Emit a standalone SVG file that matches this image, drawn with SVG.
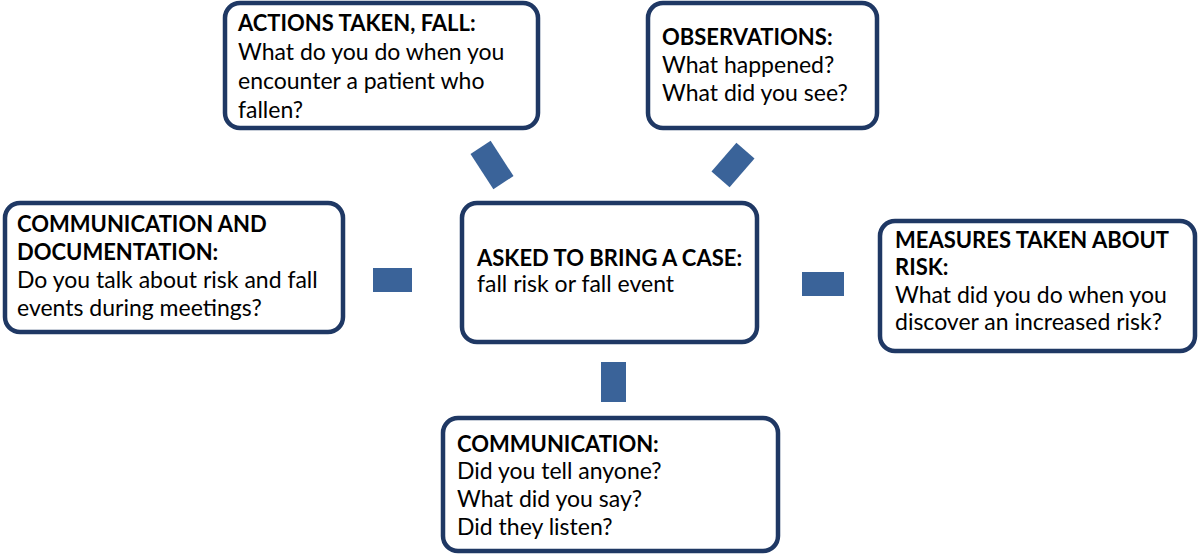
<svg xmlns="http://www.w3.org/2000/svg" width="1200" height="554" viewBox="0 0 1200 554">
<style>
.box{fill:#fff;stroke:#1F3864;stroke-width:4.5}
.t{font-family:Lato,"Liberation Sans",sans-serif;font-size:23px;fill:#000}
.b{font-weight:bold;font-size:22px}
.c{fill:#3A6399}
</style>
<rect width="1200" height="554" fill="#fff"/>
<g id="connectors">
<rect class="c" x="373" y="268" width="39" height="24"/>
<rect class="c" x="802" y="272" width="42" height="24"/>
<rect class="c" x="601" y="362" width="25" height="40"/>
<rect class="c" x="-12" y="-21" width="24" height="42" transform="translate(492,165) rotate(-33)"/>
<rect class="c" x="-12" y="-19" width="24" height="38" transform="translate(733,165) rotate(41)"/>
</g>
<g id="actions">
<rect class="box" x="225" y="3" width="313" height="125" rx="15"/>
<text class="t" x="238"><tspan class="b" x="238" y="31">ACTIONS TAKEN, FALL:</tspan><tspan x="238" y="60">What do you do when you</tspan><tspan x="238" y="89">encounter a patient who</tspan><tspan x="238" y="118">fallen?</tspan></text>
</g>
<g id="observations">
<rect class="box" x="648" y="3" width="229" height="125" rx="15"/>
<text class="t"><tspan class="b" x="662" y="45">OBSERVATIONS:</tspan><tspan x="662" y="73">What happened?</tspan><tspan x="662" y="101">What did you see?</tspan></text>
</g>
<g id="comm-doc">
<rect class="box" x="5" y="203" width="338" height="129" rx="15"/>
<text class="t"><tspan class="b" x="17" y="232">COMMUNICATION AND</tspan><tspan class="b" x="17" y="260">DOCUMENTATION:</tspan><tspan x="17" y="288">Do you talk about risk and fall</tspan><tspan x="17" y="316">events during meetings?</tspan></text>
</g>
<g id="center">
<rect class="box" x="462" y="203" width="295" height="139" rx="15"/>
<text class="t"><tspan class="b" x="477" y="266">ASKED TO BRING A CASE:</tspan><tspan x="477" y="292">fall risk or fall event</tspan></text>
</g>
<g id="measures">
<rect class="box" x="880" y="221" width="315" height="130" rx="15"/>
<text class="t"><tspan class="b" x="895" y="248">MEASURES TAKEN ABOUT</tspan><tspan class="b" x="895" y="275">RISK:</tspan><tspan x="895" y="303">What did you do when you</tspan><tspan x="895" y="330">discover an increased risk?</tspan></text>
</g>
<g id="communication">
<rect class="box" x="443" y="418" width="335" height="133" rx="15"/>
<text class="t"><tspan class="b" x="457" y="452">COMMUNICATION:</tspan><tspan x="457" y="479">Did you tell  anyone?</tspan><tspan x="457" y="507">What did you say?</tspan><tspan x="457" y="535">Did they listen?</tspan></text>
</g>
</svg>
